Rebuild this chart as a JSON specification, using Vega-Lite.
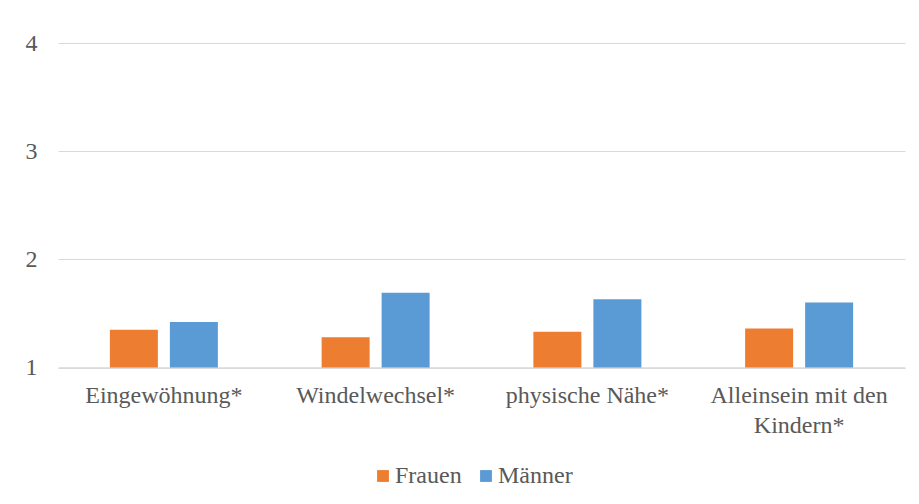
{
  "$schema": "https://vega.github.io/schema/vega-lite/v6.json",
  "autosize": {"type": "none"},
  "padding": {"left": 58, "top": 43, "right": 14, "bottom": 136},
  "width": 847,
  "height": 324.5,
  "background": "white",
  "data": {"values": [
    {"kategorie": "Eingewöhnung*", "geschlecht": "Frauen", "wert": 1.35},
    {"kategorie": "Eingewöhnung*", "geschlecht": "Männer", "wert": 1.42},
    {"kategorie": "Windelwechsel*", "geschlecht": "Frauen", "wert": 1.28},
    {"kategorie": "Windelwechsel*", "geschlecht": "Männer", "wert": 1.69},
    {"kategorie": "physische Nähe*", "geschlecht": "Frauen", "wert": 1.33},
    {"kategorie": "physische Nähe*", "geschlecht": "Männer", "wert": 1.63},
    {"kategorie": "Alleinsein mit den Kindern*", "geschlecht": "Frauen", "wert": 1.36},
    {"kategorie": "Alleinsein mit den Kindern*", "geschlecht": "Männer", "wert": 1.60}
  ]},
  "mark": {"type": "bar"},
  "encoding": {
    "x": {
      "field": "kategorie", "type": "nominal", "sort": null,
      "scale": {"paddingInner": 0.49, "paddingOuter": 0.245},
      "axis": {
        "title": null, "labelAngle": 0, "ticks": false,
        "domainColor": "#D9D9D9", "domainWidth": 1.5,
        "labelPadding": 16, "labelFontSize": 24, "labelFont": "Liberation Serif",
        "labelColor": "#595959", "labelLineHeight": 30,
        "labelExpr": "datum.value == 'Alleinsein mit den Kindern*' ? ['Alleinsein mit den', 'Kindern*'] : datum.value"
      }
    },
    "xOffset": {"field": "geschlecht", "type": "nominal", "scale": {"paddingInner": 0.2, "paddingOuter": 0}},
    "y": {
      "field": "wert", "type": "quantitative",
      "scale": {"domain": [1, 4], "nice": false, "zero": false},
      "axis": {
        "title": null, "values": [1, 2, 3, 4], "format": "d", "domain": false, "ticks": false,
        "gridColor": "#D9D9D9", "gridWidth": 1.2,
        "labelPadding": 21, "labelFontSize": 24, "labelFont": "Liberation Serif", "labelColor": "#595959"
      }
    },
    "y2": {"datum": 1},
    "color": {
      "field": "geschlecht", "type": "nominal",
      "scale": {"domain": ["Frauen", "Männer"], "range": ["#ED7D31", "#5B9BD5"]},
      "legend": {
        "title": null, "orient": "none", "direction": "horizontal",
        "legendX": 313, "legendY": 421,
        "symbolType": "square", "symbolSize": 140, "symbolStrokeWidth": 0, "symbolOpacity": 1,
        "labelFontSize": 24, "labelFont": "Liberation Serif", "labelColor": "#595959",
        "columnPadding": 12, "labelOffset": 0
      }
    }
  },
  "config": {"view": {"stroke": null}}
}
